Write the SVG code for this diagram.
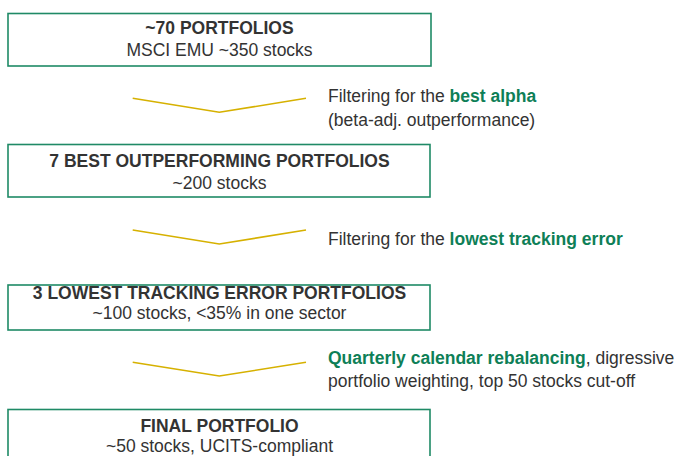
<svg xmlns="http://www.w3.org/2000/svg" width="686" height="456" viewBox="0 0 686 456">
<style>
.box{fill:#fff;stroke:#1f8a66;stroke-width:1.6}
.t{font-family:"Liberation Sans",Arial,sans-serif;font-size:17.5px;fill:#333}
.c{text-anchor:middle}
.b{font-weight:bold}
.g{fill:#0e7f57;font-weight:bold}
.chev{fill:none;stroke:#d6b100;stroke-width:1.6}
</style>
<rect width="686" height="456" fill="#fff"/>
<g id="node1">
<rect class="box" x="8" y="13.5" width="423" height="52.5"/>
<text class="t c b" x="219.5" y="34">~70 PORTFOLIOS</text>
<text class="t c" x="219.5" y="56">MSCI EMU ~350 stocks</text>
</g>
<g id="node2">
<rect class="box" x="8" y="144.5" width="422" height="52.5"/>
<text class="t c b" x="219.5" y="166.5">7 BEST OUTPERFORMING PORTFOLIOS</text>
<text class="t c" x="219.5" y="188.5">~200 stocks</text>
</g>
<g id="node3">
<rect class="box" x="8" y="285" width="422" height="45"/>
<text class="t c b" x="219.5" y="299">3 LOWEST TRACKING ERROR PORTFOLIOS</text>
<text class="t c" x="219.5" y="319">~100 stocks, &lt;35% in one sector</text>
</g>
<g id="node4">
<rect class="box" x="8" y="409.5" width="422" height="60"/>
<text class="t c b" x="219.5" y="431.5">FINAL PORTFOLIO</text>
<text class="t c" x="219.5" y="452">~50 stocks, UCITS-compliant</text>
</g>
<g id="connectors">
<polyline class="chev" points="132.7,98.3 219.3,112.3 306,98.3"/>
<polyline class="chev" points="132.7,230 219.3,244 306,230"/>
<polyline class="chev" points="132.7,362.3 219.3,376 306,362.3"/>
</g>
<g id="labels">
<text class="t" x="328" y="102">Filtering for the <tspan class="g">best alpha</tspan></text>
<text class="t" x="328" y="126">(beta-adj. outperformance)</text>
<text class="t" x="328" y="245">Filtering for the <tspan class="g">lowest tracking error</tspan></text>
<text class="t" x="328" y="364"><tspan class="g">Quarterly calendar rebalancing</tspan>, digressive</text>
<text class="t" x="328" y="387">portfolio weighting, top 50 stocks cut-off</text>
</g>
</svg>
